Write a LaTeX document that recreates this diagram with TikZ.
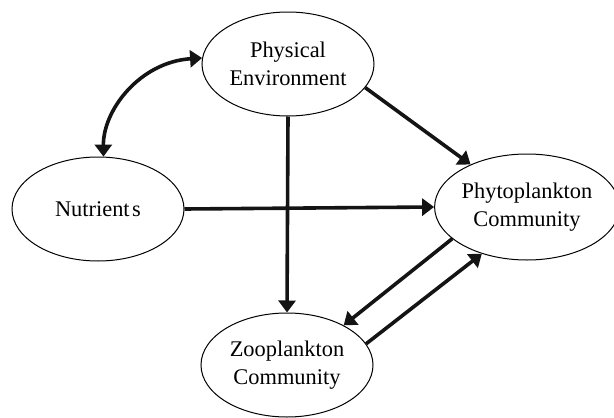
\documentclass[tikz,border=0pt]{standalone}
\usepackage{fontspec}
\setmainfont{Liberation Serif}
\usetikzlibrary{shapes.geometric,arrows.meta}
\begin{document}
\begin{tikzpicture}[x=1pt,y=-1pt,
  box/.style={ellipse,draw,line width=1pt,minimum width=172pt,minimum height=104pt,inner sep=0pt,align=center,font=\fontsize{22.4}{28}\selectfont,text=black},
  link/.style={line width=3.6pt,-{Triangle[length=12pt,width=17pt]},draw=black!92}]
\useasboundingbox (0,0) rectangle (614,418);
\node[box] (pe) at (288,64) {Physical\\Environment};
\node[box] (nut) at (98,209) {Nutrient\hspace{2.5pt}s};
\node[box,minimum height=106pt] (phy) at (527,207) {Phytoplankton\\Community};
\node[box] (zoo) at (287,365) {Zooplankton\\Community};
\draw[link,{Triangle[length=12pt,width=17pt]}-{Triangle[length=12pt,width=17pt]}] (nut.84) .. controls (103,110) and (140,62) .. (pe.176);
\draw[link] (pe.-17) -- (phy.143);
\draw[link] (nut.east) -- (phy.west);
\draw[link] (pe.south) -- (zoo.north);
\draw[link] (phy.203) -- (zoo.35);
\draw[link] (zoo.15) -- (phy.226);
\end{tikzpicture}
\end{document}
